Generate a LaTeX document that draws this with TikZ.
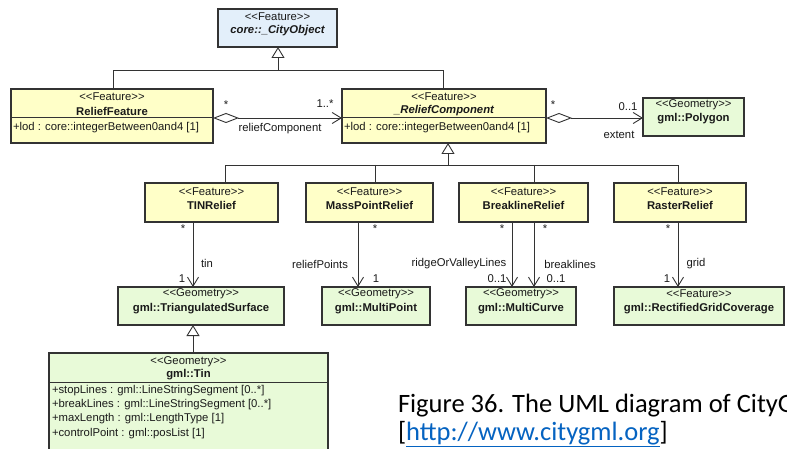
\documentclass[tikz,border=0pt]{standalone}
\usepackage{fontspec}
\setmainfont{Liberation Sans}[Ligatures=TeXOff]
\newfontfamily\capfont{Carlito}
\usetikzlibrary{arrows.meta,calc}
\definecolor{lineC}{HTML}{333333}
\definecolor{textC}{HTML}{1A1A1A}
\definecolor{blueF}{HTML}{E3EFFA}
\definecolor{yelF}{HTML}{FFFFC8}
\definecolor{grnF}{HTML}{E8FAD8}
\definecolor{linkC}{HTML}{0563C1}
\tikzset{
  cls/.style={draw=lineC, line width=1.1pt, anchor=north west, inner sep=0pt, outer sep=0pt},
  bcls/.style={cls, fill=blueF},
  ycls/.style={cls, fill=yelF},
  gcls/.style={cls, fill=grnF},
  divider/.style={draw=lineC, line width=1pt},
  txt/.style={inner sep=0pt, outer sep=0pt, text=textC, font=\fontsize{11.3}{13}\selectfont},
  stereo/.style={txt},
  cname/.style={txt, font=\fontsize{11.3}{13}\selectfont\bfseries},
  aname/.style={txt, font=\fontsize{11.3}{13}\selectfont\bfseries\itshape},
  attr/.style={txt, anchor=west},
  lbl/.style={txt},
  conn/.style={draw=lineC, line width=0.9pt},
  nav/.style={conn, -{Straight Barb[length=9pt, width=11pt, line width=0.9pt]}},
  agg/.style={conn, {Diamond[open, length=26pt, width=10pt, fill=white, line width=0.9pt]}-{Straight Barb[length=9pt, width=11pt, line width=0.9pt]}},
  gen/.style={conn, -{Triangle[open, length=11pt, width=13pt, fill=white, line width=0.9pt]}},
  captxt/.style={inner sep=0pt, outer sep=0pt, anchor=base west, font=\capfont\fontsize{26.5}{30}\selectfont}
}
\newcommand\umlbox[6]{\node[#2, minimum width=#5pt, minimum height=#6pt] (#1) at (#3,#4) {};}
\begin{document}
\begin{tikzpicture}[x=1pt, y=-1pt]
\useasboundingbox (0,0) rectangle (787,449);
\clip (0,0) rectangle (787,449);
\fill[white] (0,0) rectangle (787,449);

% ---- top class
\umlbox{co}{bcls}{218}{9}{119}{38}
\node[stereo] (cos) at (277.5,16.5) {<<Feature>>};
\node[aname] (con) at (277.5,31) {core::\_CityObject};

% ---- ReliefFeature
\umlbox{rf}{ycls}{11}{89}{202}{54}
\draw[divider] ($(rf.north west)+(0,29)$) -- ($(rf.north east)+(0,29)$);
\node[stereo] (rfs) at (112,97) {<<Feature>>};
\node[cname] (rfn) at (112,111) {ReliefFeature};
\node[attr] (rfa) at (13,127.5) {+lod : core::integerBetween0and4 [1]};

% ---- _ReliefComponent
\umlbox{rc}{ycls}{342}{89}{204}{54}
\draw[divider] ($(rc.north west)+(0,29)$) -- ($(rc.north east)+(0,29)$);
\node[stereo] (rcs) at (444,97) {<<Feature>>};
\node[aname] (rcn) at (444,111) {\_ReliefComponent};
\node[attr] (rca) at (344,127.5) {+lod : core::integerBetween0and4 [1]};

% ---- gml::Polygon
\umlbox{poly}{gcls}{643}{98}{101}{38}
\node[stereo] (polys) at (693.5,105) {<<Geometry>>};
\node[cname] (polyn) at (693.5,118.5) {gml::Polygon};

% ---- generalisation 1
\coordinate (j1) at (278,70);
\coordinate (j1l) at (113,70);
\coordinate (j1r) at (443,70);
\draw[conn] (j1l |- rf.north) -- (j1l) -- (j1r) -- (j1r |- rc.north);
\draw[gen] (j1) -- (j1 |- co.south);

% ---- aggregations
\coordinate (rfagg) at ($(rf.north east)+(0,29)$);
\coordinate (rcagg) at ($(rc.north east)+(0,29)$);
\draw[agg] (rfagg) -- (rfagg -| rc.west);
\node[lbl] (l1) at (226,105) {*};
\node[lbl] (l2) at (325,104) {1..*};
\node[lbl] (l3) at (280,129) {reliefComponent};
\draw[agg] (rcagg) -- (rcagg -| poly.west);
\node[lbl] (l4) at (553,105) {*};
\node[lbl] (l5) at (628,106.5) {0..1};
\node[lbl] (l6) at (619,134.5) {extent};

% ---- second row
\umlbox{tinr}{ycls}{145}{183}{133}{39}
\node[stereo] (tinrs) at (211.5,191.5) {<<Feature>>};
\node[cname] (tinrn) at (211.5,205) {TINRelief};
\umlbox{mpr}{ycls}{306}{183}{127}{39}
\node[stereo] (mprs) at (369.5,191.5) {<<Feature>>};
\node[cname] (mprn) at (369.5,205) {MassPointRelief};
\umlbox{blr}{ycls}{459}{183}{129}{39}
\node[stereo] (blrs) at (523.5,191.5) {<<Feature>>};
\node[cname] (blrn) at (523.5,205) {BreaklineRelief};
\umlbox{rr}{ycls}{614}{183}{132}{39}
\node[stereo] (rrs) at (680,191.5) {<<Feature>>};
\node[cname] (rrn) at (680,205) {RasterRelief};

% ---- generalisation 2
\coordinate (j2) at (448,165);
\coordinate (j2a) at (225,165);
\coordinate (j2b) at (375,165);
\coordinate (j2c) at (534,165);
\coordinate (j2d) at (678,165);
\draw[conn] (j2a |- tinr.north) -- (j2a) -- (j2d) -- (j2d |- rr.north);
\draw[conn] (j2b) -- (j2b |- mpr.north);
\draw[conn] (j2c) -- (j2c |- blr.north);
\draw[gen] (j2) -- (j2 |- rc.south);

% ---- third row
\umlbox{ts}{gcls}{118}{287}{166}{38}
\node[stereo] (tss) at (201,294) {<<Geometry>>};
\node[cname] (tsn) at (201,309) {gml::TriangulatedSurface};
\umlbox{mp}{gcls}{322}{287}{108}{38}
\node[stereo] (mps) at (376,294) {<<Geometry>>};
\node[cname] (mpn) at (376,309) {gml::MultiPoint};
\umlbox{mc}{gcls}{466}{287}{110}{38}
\node[stereo] (mcs) at (521,294) {<<Geometry>>};
\node[cname] (mcn) at (521,309) {gml::MultiCurve};
\umlbox{rgc}{gcls}{614}{287}{170}{38}
\node[stereo] (rgcs) at (699,294) {<<Feature>>};
\node[cname] (rgcn) at (699,309) {gml::RectifiedGridCoverage};

% ---- navigable associations
\coordinate (a1) at (193,250);
\coordinate (a2) at (358,250);
\coordinate (a3) at (512,250);
\coordinate (a4) at (534,250);
\coordinate (a5) at (678,250);
\draw[nav] (a1 |- tinr.south) -- (a1 |- ts.north);
\draw[nav] (a2 |- mpr.south) -- (a2 |- mp.north);
\draw[nav] (a3 |- blr.south) -- (a3 |- mc.north);
\draw[nav] (a4 |- blr.south) -- (a4 |- mc.north);
\draw[nav] (a5 |- rr.south) -- (a5 |- rgc.north);
\node[lbl] (m1) at (183,229) {*};
\node[lbl] (m2) at (207,263) {tin};
\node[lbl] (m3) at (182,279) {1};
\node[lbl] (m4) at (375,229) {*};
\node[lbl] (m5) at (320,264) {reliefPoints};
\node[lbl] (m6) at (376,279) {1};
\node[lbl] (m7) at (502,229) {*};
\node[lbl] (m8) at (545,229) {*};
\node[lbl] (m9) at (459,264) {ridgeOrValleyLines};
\node[lbl] (m10) at (570,264) {breaklines};
\node[lbl] (m11) at (497,279) {0..1};
\node[lbl] (m12) at (556,279) {0..1};
\node[lbl] (m13) at (668,229) {*};
\node[lbl] (m14) at (696,264) {grid};
\node[lbl] (m15) at (667,279) {1};

% ---- gml::Tin
\umlbox{tin}{gcls}{49}{353}{279}{110}
\draw[divider] ($(tin.north west)+(0,29)$) -- ($(tin.north east)+(0,29)$);
\node[stereo] (tins) at (188.5,361.5) {<<Geometry>>};
\node[cname] (tinn) at (188.5,375) {gml::Tin};
\node[attr] (ta1) at (52,391) {+stopLines : gml::LineStringSegment [0..*]};
\node[attr] (ta2) at (52,405) {+breakLines : gml::LineStringSegment [0..*]};
\node[attr] (ta3) at (52,419) {+maxLength : gml::LengthType [1]};
\node[attr] (ta4) at (52,433.5) {+controlPoint : gml::posList [1]};
\coordinate (g3) at (193,340);
\draw[gen] (g3 |- tin.north) -- (g3 |- ts.south);

% ---- caption
\node[captxt] (cap1) at (398,412) {Figure 36. The UML diagram of CityG};
\node[captxt] (cap2) at (398,440) {[\textcolor{linkC}{\underline{http://www.citygml.org}}]};
\end{tikzpicture}
\end{document}
